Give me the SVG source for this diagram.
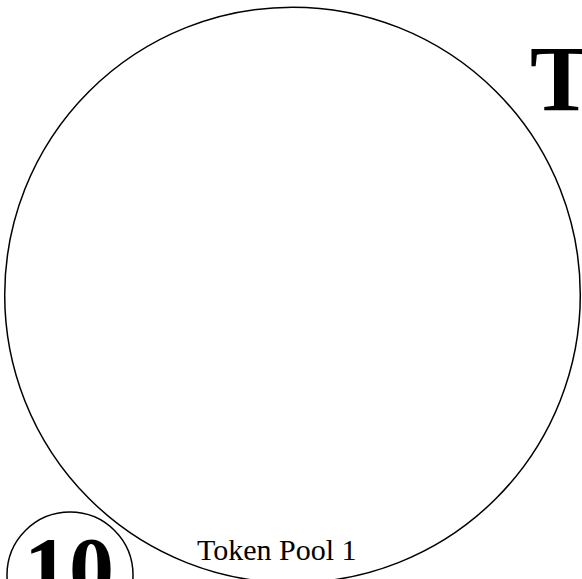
<svg xmlns="http://www.w3.org/2000/svg" width="582" height="579" viewBox="0 0 582 579">
<style>
.ring{fill:none;stroke:#000;stroke-width:1.5}
.lbl{font-family:"Liberation Serif",serif;fill:#000}
</style>
<rect width="582" height="579" fill="#fff"/>
<g id="pool">
<circle class="ring" cx="292.5" cy="295" r="287.8"/>
<text class="lbl" x="530" y="110" font-size="94" font-weight="bold">T</text>
<text class="lbl" x="197" y="560" font-size="30">Token Pool 1</text>
</g>
<g id="badge">
<circle class="ring" cx="70" cy="575" r="63"/>
<text class="lbl" x="24" y="600" font-size="90" font-weight="bold">10</text>
</g>
<g id="connectors"/>
</svg>
